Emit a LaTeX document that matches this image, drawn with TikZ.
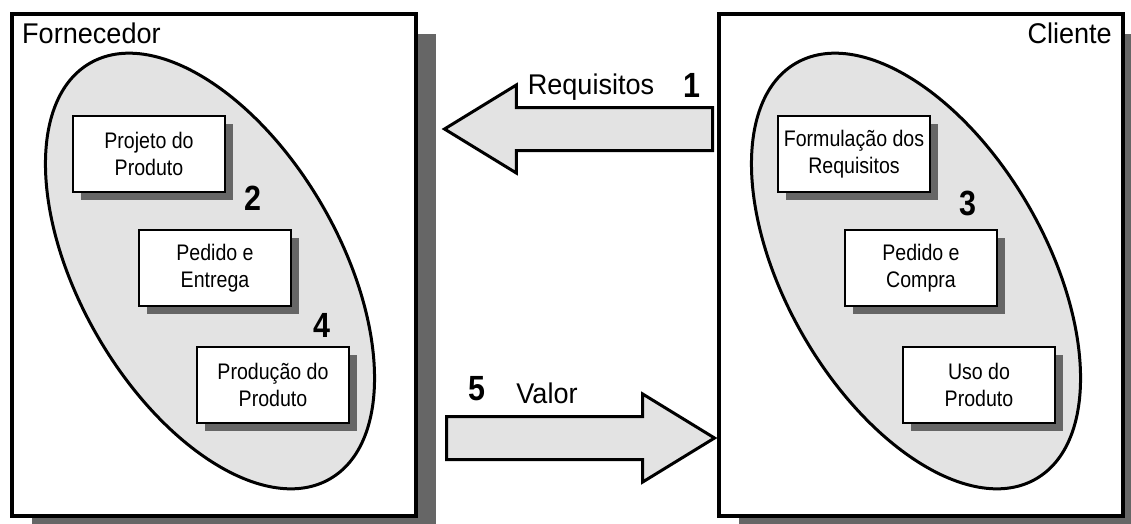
\documentclass[tikz,border=0pt]{standalone}
\usepackage{fontspec}
\setmainfont{Liberation Sans}
\newfontfamily\boxfont[FakeStretch=0.87]{Liberation Sans}
\newfontfamily\titlefont[FakeStretch=0.95]{Liberation Sans}
\usetikzlibrary{shapes.geometric,shapes.arrows,shadows}
\definecolor{shadowGray}{HTML}{666666}
\definecolor{areaGray}{HTML}{E3E3E3}
\begin{document}
\begin{tikzpicture}
[x=1pt,y=-1pt,
  frameDecorate/.style={shape=rectangle,draw,line width=4pt,fill=white,inner sep=0pt,
    minimum width=404pt,minimum height=502pt,
    drop shadow={shadow xshift=20pt,shadow yshift=-20pt,fill=shadowGray,opacity=1}},%
  areaDecorate/.style={shape=ellipse,draw,line width=3pt,fill=areaGray,inner sep=0pt,
    minimum width=480pt,minimum height=260pt,rotate=-60},%
  boxDecorate/.style={shape=rectangle,draw,line width=2pt,fill=white,align=center,
    minimum width=152pt,minimum height=76pt,inner sep=0pt,
    font=\boxfont\fontsize{22.5pt}{27pt}\selectfont,
    drop shadow={shadow xshift=8pt,shadow yshift=-8pt,fill=shadowGray,opacity=1}},%
  arrowDecorate/.style={shape=single arrow,draw,line width=3pt,fill=areaGray,
    inner sep=20pt,minimum height=268pt,single arrow head extend=22.5pt,
    single arrow tip angle=63},%
  titleDecorate/.style={font=\titlefont\fontsize{28.5pt}{32pt}\selectfont,inner sep=0pt},%
  stepDecorate/.style={font=\boxfont\fontsize{35pt}{40pt}\selectfont\bfseries,inner sep=0pt}]
\useasboundingbox (0,0) rectangle (1131,523);
%% frames
\node (forn) at (214,265) [frameDecorate] {};
\node (cli) at (921,265) [frameDecorate] {};
\node [titleDecorate,anchor=west] at (22,33) {Fornecedor};
\node [titleDecorate,anchor=east] at (1112,33) {Cliente};
%% process areas
\node (fornArea) at (210,271) [areaDecorate] {};
\node (cliArea) at (916,271) [areaDecorate] {};
%% processes of the supplier
\node (projeto) at (149,154) [boxDecorate] {Projeto do\\Produto};
\node (entrega) at (215,268) [boxDecorate] {Pedido e\\Entrega};
\node (producao) at (273,385) [boxDecorate] {Produção do\\Produto};
\node [stepDecorate] at (253,198) {2};
\node [stepDecorate] at (322,325) {4};
%% processes of the client
\node (formulacao) at (854,154) [boxDecorate] {Formulação dos\\Requisitos};
\node (compra) at (921,268) [boxDecorate] {Pedido e\\Compra};
\node (uso) at (979,385) [boxDecorate] {Uso do\\Produto};
\node [stepDecorate] at (968,203) {3};
%% flows between both sides
\node (req) at (714,129) [arrowDecorate,shape border rotate=180,anchor=tail] {};
\node (val) at (445,438) [arrowDecorate,anchor=tail] {};
\node [titleDecorate] at (591,87) {Requisitos};
\node [stepDecorate] at (692,85) {1};
\node [titleDecorate] at (547,393) {Valor};
\node [stepDecorate] at (477,389) {5};
\end{tikzpicture}
\end{document}
